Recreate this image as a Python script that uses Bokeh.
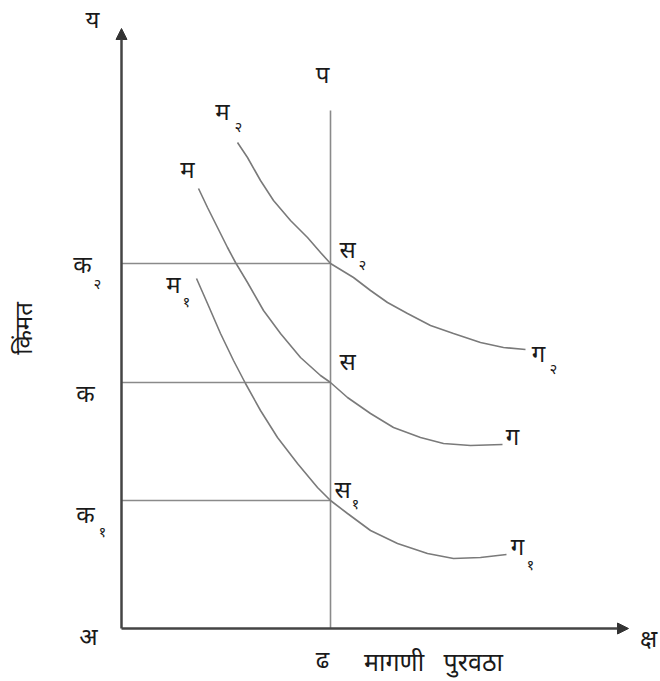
from bokeh.plotting import figure
from bokeh.models import Range1d, Arrow, NormalHead, ColumnDataSource
from bokeh.core.properties import value
from bokeh.embed import file_html
from bokeh.resources import INLINE

# ---- data (quantity, price) ----
q_fixed = 209          # fixed supply quantity (ढ)
p_top = 518            # top of vertical supply line (प)
price_levels = [128, 246, 365]   # क१, क, क२

# demand curves
m2_x = [116, 126, 139, 152, 169, 186, 199, 209, 232, 249, 266, 286, 309, 332, 359, 382, 404]
m2_y = [486, 471, 448, 428, 408, 391, 376, 365, 351, 338, 326, 315, 303, 295, 286, 281, 279]
m_x = [77, 86, 96, 106, 114, 126, 142, 159, 179, 199, 209, 226, 249, 272, 299, 322, 349, 381]
m_y = [440, 421, 401, 381, 366, 346, 318, 295, 271, 253, 246, 231, 215, 201, 191, 185, 183, 184]
m1_x = [75, 86, 99, 112, 124, 139, 156, 176, 196, 209, 226, 249, 276, 306, 332, 359, 385]
m1_y = [350, 325, 295, 268, 245, 218, 191, 165, 141, 128, 115, 98, 85, 75, 70, 71, 74]

y_axis_top = 600
x_axis_end = 507

FONT = value("Noto Sans")
TXT = "#1a1a1a"

p = figure(width=660, height=681, output_backend="svg", toolbar_location=None,
           x_range=Range1d(-121, 539), y_range=Range1d(-53, 628),
           min_border=0, min_border_left=0, min_border_right=0,
           min_border_top=0, min_border_bottom=0)
p.axis.visible = False
p.grid.visible = False
p.outline_line_color = None
p.background_fill_color = "white"

curve_col = "#7a7a7a"
# price lines
for lv in price_levels:
    p.line([0, q_fixed], [lv, lv], line_color="#8a8a8a", line_width=1.6)
# supply line
p.line([q_fixed, q_fixed], [0, p_top], line_color="#8a8a8a", line_width=1.6)
# demand curves
p.line(m2_x, m2_y, line_color=curve_col, line_width=1.6)
p.line(m_x, m_y, line_color=curve_col, line_width=1.6)
p.line(m1_x, m1_y, line_color=curve_col, line_width=1.6)

# axes with arrows
p.add_layout(Arrow(end=NormalHead(size=11, fill_color="#333333", line_color="#333333"),
                   x_start=0, y_start=0, x_end=0, y_end=y_axis_top,
                   line_color="#444444", line_width=2.5))
p.add_layout(Arrow(end=NormalHead(size=11, fill_color="#333333", line_color="#333333"),
                   x_start=0, y_start=0, x_end=x_axis_end, y_end=0,
                   line_color="#444444", line_width=2.5))

# main labels
main_txt = ["य", "प", "म", "म", "म", "स", "स", "स", "ग", "ग", "ग",
            "क", "क", "क", "अ", "क्ष", "ढ"]
main_x = [-29, 201, 101, 66, 52, 226, 226, 221, 417, 391, 396,
          -39, -36, -36, -33, 527, 201]
main_y = [610, 555, 518, 460, 345, 380, 268, 140, 276, 193, 83,
          365, 236, 115, -7, -9, -30]
src = ColumnDataSource(dict(x=main_x, y=main_y, t=main_txt))
p.text("x", "y", text="t", source=src, text_font=FONT, text_font_size="24px",
       text_color=TXT, text_align="center", text_baseline="middle")

p.text(x=[312], y=[-32], text=["मागणी\u00a0\u00a0\u00a0पुरवठा"], text_font=FONT,
       text_font_size="25px", text_color=TXT, text_align="center",
       text_baseline="middle")

# subscripts
sub_txt = ["२", "१", "२", "१", "२", "१", "२", "१"]
sub_x = [117, 65, 241, 234, 432, 409, -24, -19]
sub_y = [503, 328, 365, 126, 261, 65, 346, 98]
src2 = ColumnDataSource(dict(x=sub_x, y=sub_y, t=sub_txt))
p.text("x", "y", text="t", source=src2, text_font=FONT, text_font_size="15px",
       text_color=TXT, text_align="center", text_baseline="middle")

# y label rotated
p.text(x=[-99], y=[300], text=["किंमत"], angle=1.5708, text_font=FONT,
       text_font_size="24px", text_color=TXT, text_align="center",
       text_baseline="middle")

open("out.html", "w").write(file_html(p, INLINE))
